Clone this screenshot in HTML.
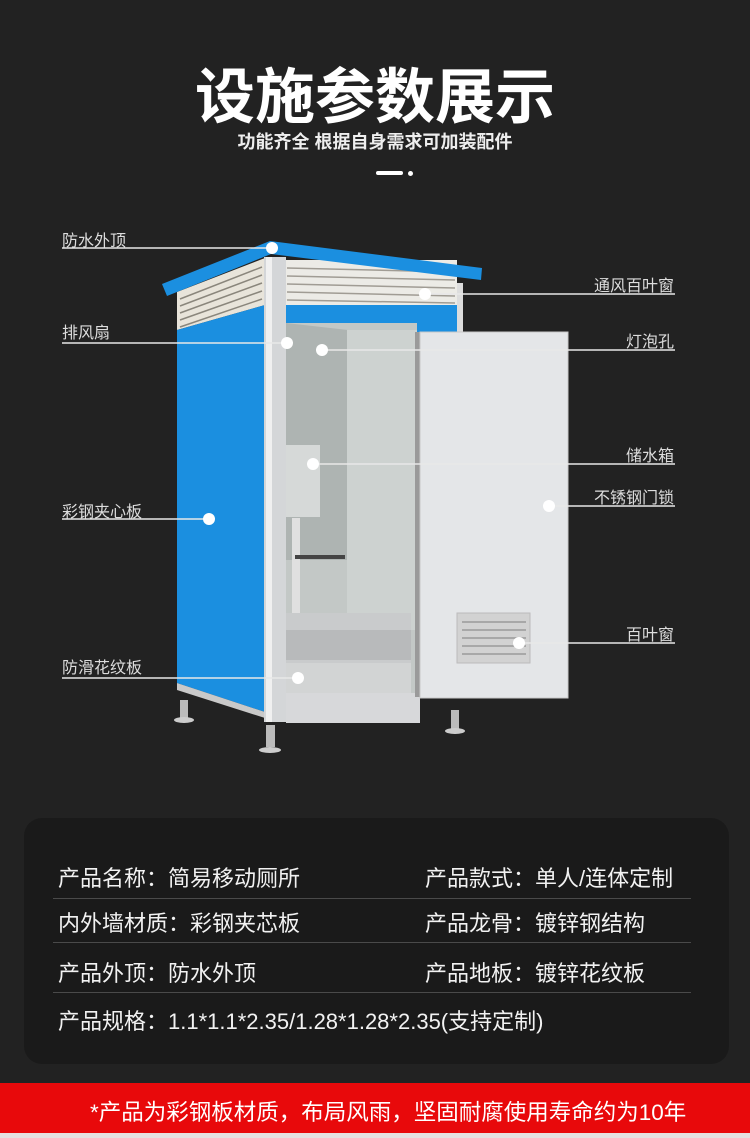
<!DOCTYPE html>
<html><head><meta charset="utf-8"><style>
body{margin:0;width:750px;height:1138px;background:#222222;overflow:hidden;position:relative;font-family:"Liberation Sans","Noto Sans CJK SC",sans-serif;color:#fff}
.t{position:absolute;white-space:nowrap}
.card{position:absolute;left:24px;top:818px;width:705px;height:246px;background:#1a1a1a;border-radius:18px}
.row{position:absolute;font-size:22px;color:#f2f2f2}
.hl{position:absolute;left:53px;width:638px;height:1px;background:#4a4a4a}
</style></head><body>
<div class="t" style="left:0;width:750px;text-align:center;top:49px;font-size:60px;font-weight:bold;">设施参数展示</div>
<div class="t" style="left:0;width:750px;text-align:center;top:128px;font-size:18px;color:#eee;font-weight:bold">功能齐全 根据自身需求可加装配件</div>
<div style="position:absolute;left:376px;top:171px;width:27px;height:4px;background:#fff;border-radius:2px"></div>
<div style="position:absolute;left:408px;top:171px;width:5px;height:5px;background:#fff;border-radius:50%"></div>

<svg width="750" height="800" style="position:absolute;left:0;top:0">
<rect x="180" y="700" width="8" height="18" fill="#bbb"/><ellipse cx="184" cy="720" rx="10" ry="3" fill="#ccc"/>
<rect x="266" y="725" width="9" height="22" fill="#bbb"/><ellipse cx="270" cy="750" rx="11" ry="3" fill="#ccc"/>
<rect x="451" y="710" width="8" height="20" fill="#bbb"/><ellipse cx="455" cy="731" rx="10" ry="3" fill="#ccc"/>
<polygon points="177,292 265,258 265,305 177,330" fill="#e8e4da"/>
<g stroke="#8a867c" stroke-width="1.5">
<line x1="180" y1="299" x2="262" y2="267"/><line x1="180" y1="306" x2="262" y2="275"/><line x1="180" y1="313" x2="262" y2="283"/><line x1="180" y1="320" x2="262" y2="291"/><line x1="180" y1="327" x2="262" y2="299"/>
</g>
<polygon points="177,330 265,305 265,712 177,683" fill="#1b8fe0"/>
<polygon points="177,683 265,712 265,718 177,690" fill="#c9c9c9"/>
<rect x="285" y="260" width="172" height="46" fill="#ecebe6"/>
<g stroke="#a09c94" stroke-width="1.5">
<line x1="287" y1="268" x2="455" y2="272"/><line x1="287" y1="276" x2="455" y2="280"/><line x1="287" y1="284" x2="455" y2="288"/><line x1="287" y1="292" x2="455" y2="296"/><line x1="287" y1="300" x2="455" y2="303"/>
</g>
<rect x="457" y="283" width="6" height="50" fill="#ddd"/>
<rect x="285" y="305" width="172" height="27" fill="#1b8fe0"/>
<polygon points="162,284 270,241 482,268 481,280 271,254 167,296" fill="#1b8fe0"/>
<rect x="264" y="257" width="22" height="465" fill="#d4d6d8"/>
<rect x="266" y="257" width="6" height="465" fill="#f0f0f0"/>
<rect x="286" y="323" width="131" height="372" fill="#c3c8c6"/>
<polygon points="286,323 348,330 348,560 286,560" fill="#aeb4b2"/>
<rect x="347" y="330" width="70" height="300" fill="#cdd2d0"/>
<rect x="286" y="445" width="34" height="72" fill="#d6d9d8"/>
<rect x="292" y="518" width="8" height="100" fill="#e0e0e0"/>
<rect x="295" y="555" width="50" height="4" fill="#444"/>
<rect x="286" y="613" width="125" height="82" fill="#c9cbcc"/>
<rect x="286" y="630" width="125" height="30" fill="#b8babb"/>
<rect x="286" y="663" width="125" height="32" fill="#d2d4d4"/>
<rect x="286" y="693" width="134" height="30" fill="#d7d8da"/>
<rect x="415" y="332" width="7" height="365" fill="#9a9a9a"/>
<rect x="420" y="332" width="148" height="366" fill="#e4e6e8" stroke="#c8c8c8"/>
<rect x="457" y="613" width="73" height="50" fill="#d2d2d2" stroke="#bbb"/>
<g stroke="#999" stroke-width="1.5">
<line x1="462" y1="622" x2="526" y2="622"/><line x1="462" y1="630" x2="526" y2="630"/><line x1="462" y1="638" x2="526" y2="638"/><line x1="462" y1="646" x2="526" y2="646"/><line x1="462" y1="654" x2="526" y2="654"/>
</g>
<g stroke="#e8e8e8" stroke-width="1.5">
<line x1="62" y1="248" x2="272" y2="248"/>
<line x1="62" y1="343" x2="287" y2="343"/>
<line x1="62" y1="519" x2="209" y2="519"/>
<line x1="62" y1="678" x2="298" y2="678"/>
<line x1="425" y1="294" x2="675" y2="294"/>
<line x1="322" y1="350" x2="675" y2="350"/>
<line x1="313" y1="464" x2="675" y2="464"/>
<line x1="549" y1="506" x2="675" y2="506"/>
<line x1="519" y1="643" x2="675" y2="643"/>
</g>
<g fill="#fff">
<circle cx="272" cy="248" r="6"/><circle cx="425" cy="294" r="6"/><circle cx="287" cy="343" r="6"/><circle cx="322" cy="350" r="6"/><circle cx="313" cy="464" r="6"/><circle cx="549" cy="506" r="6"/><circle cx="209" cy="519" r="6"/><circle cx="519" cy="643" r="6"/><circle cx="298" cy="678" r="6"/>
</g>
</svg>

<div class="t" style="left:62px;top:227px;font-size:16px;color:#ddd">防水外顶</div>
<div class="t" style="left:62px;top:319px;font-size:16px;color:#ddd">排风扇</div>
<div class="t" style="left:62px;top:498px;font-size:16px;color:#ddd">彩钢夹心板</div>
<div class="t" style="left:62px;top:654px;font-size:16px;color:#ddd">防滑花纹板</div>
<div class="t" style="right:76px;top:272px;font-size:16px;color:#ddd">通风百叶窗</div>
<div class="t" style="right:76px;top:328px;font-size:16px;color:#ddd">灯泡孔</div>
<div class="t" style="right:76px;top:442px;font-size:16px;color:#ddd">储水箱</div>
<div class="t" style="right:76px;top:484px;font-size:16px;color:#ddd">不锈钢门锁</div>
<div class="t" style="right:76px;top:621px;font-size:16px;color:#ddd">百叶窗</div>

<div class="card"></div>
<div class="row t" style="left:58px;top:861px">产品名称：简易移动厕所</div>
<div class="row t" style="left:425px;top:861px">产品款式：单人/连体定制</div>
<div class="hl" style="top:898px"></div>
<div class="row t" style="left:58px;top:906px">内外墙材质：彩钢夹芯板</div>
<div class="row t" style="left:425px;top:906px">产品龙骨：镀锌钢结构</div>
<div class="hl" style="top:942px"></div>
<div class="row t" style="left:58px;top:956px">产品外顶：防水外顶</div>
<div class="row t" style="left:425px;top:956px">产品地板：镀锌花纹板</div>
<div class="hl" style="top:992px"></div>
<div class="row t" style="left:58px;top:1004px">产品规格：1.1*1.1*2.35/1.28*1.28*2.35(支持定制)</div>

<div style="position:absolute;left:0;top:1083px;width:750px;height:50px;background:#e8090b"></div>
<div class="t" style="left:90px;top:1095px;font-size:22.5px;color:#fff">*产品为彩钢板材质，布局风雨，坚固耐腐使用寿命约为10年</div>
<div style="position:absolute;left:0;top:1133px;width:750px;height:5px;background:#e6e0e0"></div>
</body></html>
